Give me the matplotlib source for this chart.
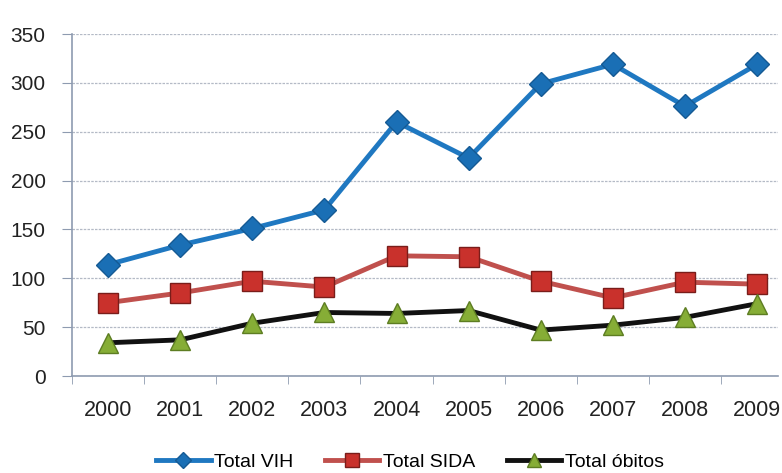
import numpy as np
import matplotlib.pyplot as plt

plt.rcParams['font.family'] = ['Liberation Sans', 'DejaVu Sans']

years = ["2000", "2001", "2002", "2003", "2004", "2005", "2006", "2007", "2008", "2009"]
total_vih = [114, 134, 151, 170, 260, 223, 299, 319, 276, 319]
total_sida = [75, 85, 97, 91, 123, 122, 97, 80, 96, 94]
total_obitos = [34, 37, 54, 65, 64, 67, 47, 52, 60, 74]

fig = plt.figure(figsize=(7.82, 4.73), dpi=100)
ax = fig.add_axes([72/782, 1-376/473, (778-72)/782, (376-34)/473])

x = np.arange(len(years))
ax.plot(x, total_vih, color="#1f78c1", lw=3.5, marker="D", markersize=12,
        markerfacecolor="#1a6fb5", markeredgecolor="#155a94", label="Total VIH")
ax.plot(x, total_sida, color="#c0504d", lw=3.5, marker="s", markersize=15,
        markerfacecolor="#c9312c", markeredgecolor="#7a1d1a", label="Total SIDA")
ax.plot(x, total_obitos, color="#111111", lw=3.5, marker="^", markersize=15,
        markerfacecolor="#86ad36", markeredgecolor="#5d7d22", label="Total óbitos")

ax.set_xlim(-0.5, 9.29)
ax.set_ylim(0, 350)
ax.set_yticks(range(0, 351, 50))
ax.set_xticks(x)
ax.set_xticklabels(years)
ax.set_xticks(np.arange(-0.5, 9.5, 1), minor=True)
ax.tick_params(axis="x", which="major", length=0, pad=17, labelsize=15.5, labelcolor="#222222")
ax.tick_params(axis="x", which="minor", length=6, color="#8e9bb0", direction="out")
ax.tick_params(axis="y", length=7, color="#8e9bb0", labelsize=15, labelcolor="#222222", pad=12)

ax.yaxis.grid(True, color="#b4bac6", linestyle=(0, (2, 1)), lw=0.9)
ax.set_axisbelow(True)
for s in ["top", "right"]:
    ax.spines[s].set_visible(False)
ax.spines["left"].set_color("#8e9bb0")
ax.spines["bottom"].set_color("#8e9bb0")
ax.spines["left"].set_linewidth(1.2)
ax.spines["bottom"].set_linewidth(1.2)

fig.legend(loc="center", bbox_to_anchor=(410/782, 1-462/473), ncol=3, frameon=False,
           fontsize=14, handlelength=2.8, markerscale=0.65, columnspacing=1.6,
           handletextpad=0.2, borderpad=0)

fig.savefig("out.png", dpi=100)
